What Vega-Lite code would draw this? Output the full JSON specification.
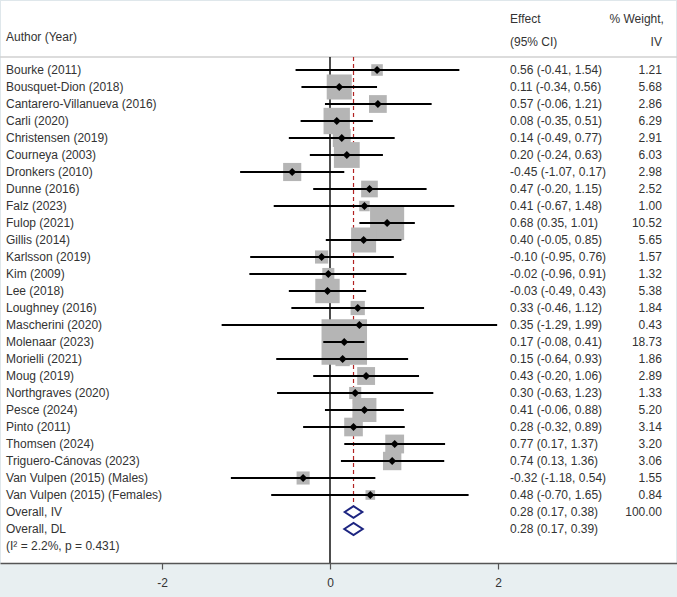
{
  "$schema": "https://vega.github.io/schema/vega-lite/v6.json",
  "width": 677,
  "height": 597,
  "autosize": {"type": "none"},
  "padding": 0,
  "background": "white",
  "config": {
    "font": "Liberation Sans",
    "view": {"stroke": "#dfe7eb", "strokeWidth": 2},
    "text": {"font": "Liberation Sans", "fontSize": 12, "color": "#333333", "baseline": "middle"}
  },
  "resolve": {"scale": {"size": "independent"}},
  "data": {
    "values": [
      {"study": "Bourke (2011)", "es": 0.56, "lo": -0.41, "hi": 1.54, "w": 1.21, "kind": "study"},
      {"study": "Bousquet-Dion (2018)", "es": 0.11, "lo": -0.34, "hi": 0.56, "w": 5.68, "kind": "study"},
      {"study": "Cantarero-Villanueva (2016)", "es": 0.57, "lo": -0.06, "hi": 1.21, "w": 2.86, "kind": "study"},
      {"study": "Carli (2020)", "es": 0.08, "lo": -0.35, "hi": 0.51, "w": 6.29, "kind": "study"},
      {"study": "Christensen (2019)", "es": 0.14, "lo": -0.49, "hi": 0.77, "w": 2.91, "kind": "study"},
      {"study": "Courneya (2003)", "es": 0.20, "lo": -0.24, "hi": 0.63, "w": 6.03, "kind": "study"},
      {"study": "Dronkers (2010)", "es": -0.45, "lo": -1.07, "hi": 0.17, "w": 2.98, "kind": "study"},
      {"study": "Dunne (2016)", "es": 0.47, "lo": -0.20, "hi": 1.15, "w": 2.52, "kind": "study"},
      {"study": "Falz (2023)", "es": 0.41, "lo": -0.67, "hi": 1.48, "w": 1.00, "kind": "study"},
      {"study": "Fulop (2021)", "es": 0.68, "lo": 0.35, "hi": 1.01, "w": 10.52, "kind": "study"},
      {"study": "Gillis (2014)", "es": 0.40, "lo": -0.05, "hi": 0.85, "w": 5.65, "kind": "study"},
      {"study": "Karlsson (2019)", "es": -0.10, "lo": -0.95, "hi": 0.76, "w": 1.57, "kind": "study"},
      {"study": "Kim (2009)", "es": -0.02, "lo": -0.96, "hi": 0.91, "w": 1.32, "kind": "study"},
      {"study": "Lee (2018)", "es": -0.03, "lo": -0.49, "hi": 0.43, "w": 5.38, "kind": "study"},
      {"study": "Loughney (2016)", "es": 0.33, "lo": -0.46, "hi": 1.12, "w": 1.84, "kind": "study"},
      {"study": "Mascherini (2020)", "es": 0.35, "lo": -1.29, "hi": 1.99, "w": 0.43, "kind": "study"},
      {"study": "Molenaar (2023)", "es": 0.17, "lo": -0.08, "hi": 0.41, "w": 18.73, "kind": "study"},
      {"study": "Morielli (2021)", "es": 0.15, "lo": -0.64, "hi": 0.93, "w": 1.86, "kind": "study"},
      {"study": "Moug (2019)", "es": 0.43, "lo": -0.20, "hi": 1.06, "w": 2.89, "kind": "study"},
      {"study": "Northgraves (2020)", "es": 0.30, "lo": -0.63, "hi": 1.23, "w": 1.33, "kind": "study"},
      {"study": "Pesce (2024)", "es": 0.41, "lo": -0.06, "hi": 0.88, "w": 5.20, "kind": "study"},
      {"study": "Pinto (2011)", "es": 0.28, "lo": -0.32, "hi": 0.89, "w": 3.14, "kind": "study"},
      {"study": "Thomsen (2024)", "es": 0.77, "lo": 0.17, "hi": 1.37, "w": 3.20, "kind": "study"},
      {"study": "Triguero-Cánovas (2023)", "es": 0.74, "lo": 0.13, "hi": 1.36, "w": 3.06, "kind": "study"},
      {"study": "Van Vulpen (2015) (Males)", "es": -0.32, "lo": -1.18, "hi": 0.54, "w": 1.55, "kind": "study"},
      {"study": "Van Vulpen (2015) (Females)", "es": 0.48, "lo": -0.70, "hi": 1.65, "w": 0.84, "kind": "study"},
      {"study": "Overall, IV", "es": 0.28, "lo": 0.17, "hi": 0.38, "w": 100.00, "kind": "overall"},
      {"study": "Overall, DL", "es": 0.28, "lo": 0.17, "hi": 0.39, "w": null, "kind": "overall"},
      {"study": "(I² = 2.2%, p = 0.431)", "es": null, "lo": null, "hi": null, "w": null, "kind": "note"}
    ]
  },
  "transform": [
    {"window": [{"op": "row_number", "as": "row"}]},
    {"calculate": "datum.kind == 'note' ? '' : replace(format(datum.es, '.2f') + ' (' + format(datum.lo, '.2f') + ', ' + format(datum.hi, '.2f') + ')', regexp('\u2212', 'g'), '-')", "as": "effect_text"},
    {"calculate": "datum.w == null ? '' : format(datum.w, '.2f')", "as": "weight_text"},
    {"calculate": "datum.hi - datum.lo", "as": "ci_width"}
  ],
  "layer": [
    {
      "data": {"values": [{}]},
      "mark": {"type": "rect", "fill": "#e8eff1"},
      "encoding": {
        "x": {
          "datum": -3.9286, "type": "quantitative",
          "scale": {"domain": [-3.9286, 4.131], "nice": false, "zero": false},
          "axis": {
            "orient": "bottom", "offset": -34, "values": [-2, 0, 2], "grid": false, "title": null,
            "labelExpr": "'' + datum.value",
            "domainColor": "#555555", "domainWidth": 1.3, "tickColor": "#555555", "tickSize": 6, "tickWidth": 1.2,
            "labelFont": "Liberation Sans", "labelFontSize": 12, "labelColor": "#333333", "labelPadding": 8,
            "labelFlush": false, "labelOverlap": false, "zindex": 1
          }
        },
        "x2": {"datum": 4.131},
        "y": {"datum": 30, "type": "quantitative", "scale": {"domain": [-3.1176, 32], "nice": false, "zero": false, "reverse": true}, "axis": null},
        "y2": {"datum": 32}
      }
    },
    {
      "data": {"values": [{}]},
      "mark": {"type": "rule", "color": "#d0d0d0", "strokeWidth": 1.6},
      "encoding": {
        "x": {"datum": -3.9286, "type": "quantitative"},
        "x2": {"datum": 4.131},
        "y": {"datum": 0.235, "type": "quantitative", "axis": null}
      }
    },
    {
      "data": {"values": [{}]},
      "mark": {"type": "rule", "color": "#000000", "strokeWidth": 1.4},
      "encoding": {
        "x": {"datum": 0, "type": "quantitative"},
        "y": {"datum": 0.235, "type": "quantitative", "axis": null},
        "y2": {"datum": 30}
      }
    },
    {
      "data": {"values": [{}]},
      "mark": {"type": "rule", "color": "#b22222", "strokeWidth": 1.2, "strokeDash": [4, 3]},
      "encoding": {
        "x": {"datum": 0.28, "type": "quantitative"},
        "y": {"datum": 0.235, "type": "quantitative", "axis": null},
        "y2": {"datum": 26.62}
      }
    },
    {
      "transform": [{"filter": "datum.kind == 'study'"}],
      "mark": {"type": "point", "shape": "square", "filled": true, "color": "#b5b5b5", "opacity": 1},
      "encoding": {
        "x": {"field": "es", "type": "quantitative"},
        "y": {"field": "row", "type": "quantitative", "axis": null},
        "size": {"field": "w", "type": "quantitative", "scale": {"type": "linear", "domain": [0, 18.73], "range": [0, 2070], "zero": true}, "legend": null}
      }
    },
    {
      "transform": [{"filter": "datum.kind == 'study'"}],
      "mark": {"type": "rule", "color": "#000000", "strokeWidth": 2},
      "encoding": {
        "x": {"field": "lo", "type": "quantitative"},
        "x2": {"field": "hi"},
        "y": {"field": "row", "type": "quantitative", "axis": null}
      }
    },
    {
      "transform": [{"filter": "datum.kind == 'study'"}],
      "mark": {"type": "point", "shape": "diamond", "filled": true, "color": "#000000", "opacity": 1, "size": 64},
      "encoding": {
        "x": {"field": "es", "type": "quantitative"},
        "y": {"field": "row", "type": "quantitative", "axis": null}
      }
    },
    {
      "transform": [{"filter": "datum.kind == 'overall'"}],
      "mark": {"type": "point", "shape": "M-1,0L0,-0.66L1,0L0,0.66Z", "filled": false, "stroke": "#1c2480", "strokeWidth": 2, "opacity": 1},
      "encoding": {
        "x": {"field": "es", "type": "quantitative"},
        "y": {"field": "row", "type": "quantitative", "axis": null},
        "size": {"field": "ci_width", "type": "quantitative", "scale": {"type": "pow", "exponent": 2, "domain": [0, 1], "range": [0, 7056]}, "legend": null}
      }
    },
    {
      "mark": {"type": "text", "align": "left"},
      "encoding": {
        "x": {"datum": -3.857, "type": "quantitative"},
        "y": {"field": "row", "type": "quantitative", "axis": null},
        "text": {"field": "study"}
      }
    },
    {
      "mark": {"type": "text", "align": "left"},
      "encoding": {
        "x": {"datum": 2.143, "type": "quantitative"},
        "y": {"field": "row", "type": "quantitative", "axis": null},
        "text": {"field": "effect_text"}
      }
    },
    {
      "mark": {"type": "text", "align": "right"},
      "encoding": {
        "x": {"datum": 3.952, "type": "quantitative"},
        "y": {"field": "row", "type": "quantitative", "axis": null},
        "text": {"field": "weight_text"}
      }
    },
    {
      "data": {"values": [{}]},
      "mark": {"type": "text", "align": "left"},
      "encoding": {
        "x": {"datum": -3.857, "type": "quantitative"},
        "y": {"datum": -0.94, "type": "quantitative", "axis": null},
        "text": {"value": "Author (Year)"}
      }
    },
    {
      "data": {"values": [{}]},
      "mark": {"type": "text", "align": "left"},
      "encoding": {
        "x": {"datum": 2.143, "type": "quantitative"},
        "y": {"datum": -2.0, "type": "quantitative", "axis": null},
        "text": {"value": "Effect"}
      }
    },
    {
      "data": {"values": [{}]},
      "mark": {"type": "text", "align": "left"},
      "encoding": {
        "x": {"datum": 2.143, "type": "quantitative"},
        "y": {"datum": -0.66, "type": "quantitative", "axis": null},
        "text": {"value": "(95% CI)"}
      }
    },
    {
      "data": {"values": [{}]},
      "mark": {"type": "text", "align": "right"},
      "encoding": {
        "x": {"datum": 3.975, "type": "quantitative"},
        "y": {"datum": -2.0, "type": "quantitative", "axis": null},
        "text": {"value": "% Weight,"}
      }
    },
    {
      "data": {"values": [{}]},
      "mark": {"type": "text", "align": "right"},
      "encoding": {
        "x": {"datum": 3.952, "type": "quantitative"},
        "y": {"datum": -0.66, "type": "quantitative", "axis": null},
        "text": {"value": "IV"}
      }
    }
  ]
}
